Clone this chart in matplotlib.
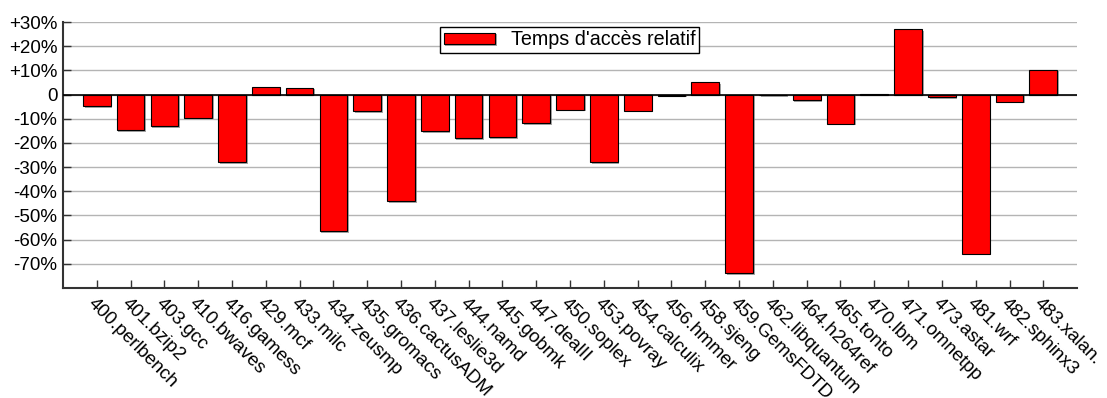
import matplotlib
matplotlib.use("Agg")
import matplotlib.pyplot as plt
import matplotlib.patheffects as pe
from matplotlib.ticker import FuncFormatter

benchmarks = ["400.perlbench", "401.bzip2", "403.gcc", "410.bwaves", "416.gamess",
              "429.mcf", "433.milc", "434.zeusmp", "435.gromacs", "436.cactusADM",
              "437.leslie3d", "444.namd", "445.gobmk", "447.dealII", "450.soplex",
              "453.povray", "454.calculix", "456.hmmer", "458.sjeng", "459.GemsFDTD",
              "462.libquantum", "464.h264ref", "465.tonto", "470.lbm", "471.omnetpp",
              "473.astar", "481.wrf", "482.sphinx3", "483.xalan."]
temps_acces = [-4.7, -14.6, -13.1, -9.5, -28.1,
               3.3, 2.8, -56.5, -6.9, -44.2,
               -15.2, -18.0, -17.5, -11.9, -6.2,
               -28.1, -6.7, -0.4, 5.1, -73.8,
               -0.3, -2.2, -12.0, 0.3, 27.1,
               -1.1, -65.8, -3.0, 10.3]
yticks = [30, 20, 10, 0, -10, -20, -30, -40, -50, -60, -70]

plt.rcParams['font.family'] = ['Liberation Sans', 'DejaVu Sans']
plt.rcParams['font.size'] = 13.5

fig = plt.figure(figsize=(11.07, 3.98), dpi=100)
ax = fig.add_axes([0.0569, 0.2764, 0.973 - 0.0569, 0.9447 - 0.2764])

x = range(len(benchmarks))
bars = ax.bar(x, temps_acces, width=0.82, color='#ff0000', edgecolor='black',
              linewidth=0.8, label="Temps d'accès relatif", zorder=3)
for b in bars:
    b.set_path_effects([pe.SimplePatchShadow(offset=(1.2, -1.2), shadow_rgbFace='#808080', alpha=0.7),
                        pe.Normal()])

ax.axhline(0, color='black', linewidth=1.2, zorder=4)
ax.set_xlim(-1, len(benchmarks))
ax.set_ylim(-80, 30)
ax.set_yticks(yticks)
ax.yaxis.set_major_formatter(FuncFormatter(lambda v, p: '0' if v == 0 else ('%+d%%' % v)))
ax.yaxis.grid(True, color='#b4b4b4', linewidth=1.0, zorder=0)

ax.set_xticks(list(x))
ax.set_xticklabels(benchmarks, rotation=-45, ha='left', va='top', rotation_mode='anchor')

ax.tick_params(axis='both', direction='in', length=6, width=1, color='#333333')
ax.tick_params(axis='x', pad=5)
ax.tick_params(axis='y', pad=4)
ax.spines['top'].set_visible(False)
ax.spines['right'].set_visible(False)
ax.spines['left'].set_color('#333333')
ax.spines['bottom'].set_color('#333333')
ax.spines['left'].set_linewidth(1.5)
ax.spines['bottom'].set_linewidth(1.5)

leg = fig.legend(loc='center', bbox_to_anchor=(0.5145, 0.8995), fancybox=False,
                 edgecolor='black', framealpha=1, handlelength=2.6, handleheight=0.55,
                 borderpad=0.2, handletextpad=0.8, borderaxespad=0, fontsize=14.2)
leg.get_frame().set_linewidth(1.0)

fig.savefig('out.png', dpi=100)
